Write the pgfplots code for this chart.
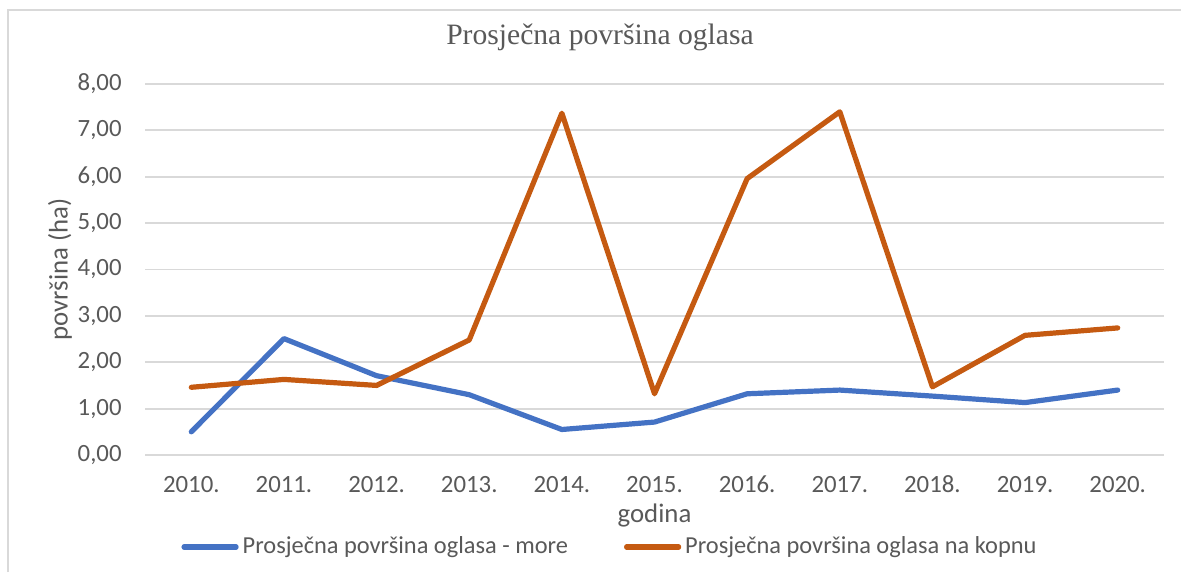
\documentclass[border=0pt]{standalone}
\usepackage{pgfplots}
\pgfplotsset{compat=1.18}
\usepackage{fontspec}
\setmainfont{Carlito}
\newfontfamily\titlefont{Liberation Serif}
\definecolor{txt}{HTML}{595959}
\definecolor{gridc}{HTML}{D9D9D9}
\definecolor{sblue}{HTML}{4472C4}
\definecolor{sorange}{HTML}{C55A11}
\begin{document}
\begin{tikzpicture}
\useasboundingbox (0,0) rectangle (590.5pt,286pt);
\draw[gridc, line width=1pt] (4pt,0pt) -- (4pt,281pt) -- (600pt,281pt);
\begin{axis}[
  at={(72.5pt,58.5pt)}, anchor=south west,
  scale only axis, width=509.5pt, height=185.5pt,
  xmin=-0.5, xmax=10.5, ymin=0, ymax=8,
  xtick={0,...,10},
  xticklabels={2010.,2011.,2012.,2013.,2014.,2015.,2016.,2017.,2018.,2019.,2020.},
  ytick={0,1,...,8},
  yticklabel style={/pgf/number format/fixed, /pgf/number format/fixed zerofill, /pgf/number format/precision=2, /pgf/number format/use comma, /pgf/number format/assume math mode=true, inner sep=0pt, anchor=east, xshift=-11.5pt},
  x tick label style={inner sep=0pt, anchor=base, yshift=-19pt},
  tick label style={font=\fontsize{12.4}{14}\selectfont, text=txt},
  major tick length=0pt,
  axis line style={draw=none},
  ymajorgrids, grid style={gridc, line width=0.9pt},
  xlabel={godina}, ylabel={površina (ha)},
  label style={font=\fontsize{13.4}{15}\selectfont, text=txt},
  xlabel style={at={(axis description cs:0.5,-0.1644)}, anchor=center},
  ylabel style={at={(axis description cs:-0.0834,0.5)}, anchor=center},
  title={\titlefont Prosječna površina oglasa},
  title style={at={(axis description cs:0.4465,1.0728)}, anchor=base, font=\fontsize{14.8}{17}\selectfont, text=txt},
  legend style={draw=none, fill=none, legend columns=2, at={(axis description cs:0.4573,-0.248)}, anchor=center,
    font=\fontsize{12.2}{14}\selectfont, text=txt,
    /tikz/every even column/.append style={column sep=26pt}},
  legend image code/.code={\draw[#1, line width=2.6pt, line cap=round] (0pt,0pt) -- (26pt,0pt);},
]
\addplot[sblue, line width=2.6pt, line join=round, line cap=round] coordinates {
(0,0.50) (1,2.51) (2,1.71) (3,1.30) (4,0.55) (5,0.71) (6,1.32) (7,1.40) (8,1.27) (9,1.13) (10,1.40)};
\addlegendentry{Prosječna površina oglasa - more}
\addplot[sorange, line width=2.6pt, line join=round, line cap=round] coordinates {
(0,1.46) (1,1.63) (2,1.50) (3,2.48) (4,7.37) (5,1.32) (6,5.96) (7,7.40) (8,1.47) (9,2.58) (10,2.74)};
\addlegendentry{Prosječna površina oglasa na kopnu}
\end{axis}
\end{tikzpicture}
\end{document}
